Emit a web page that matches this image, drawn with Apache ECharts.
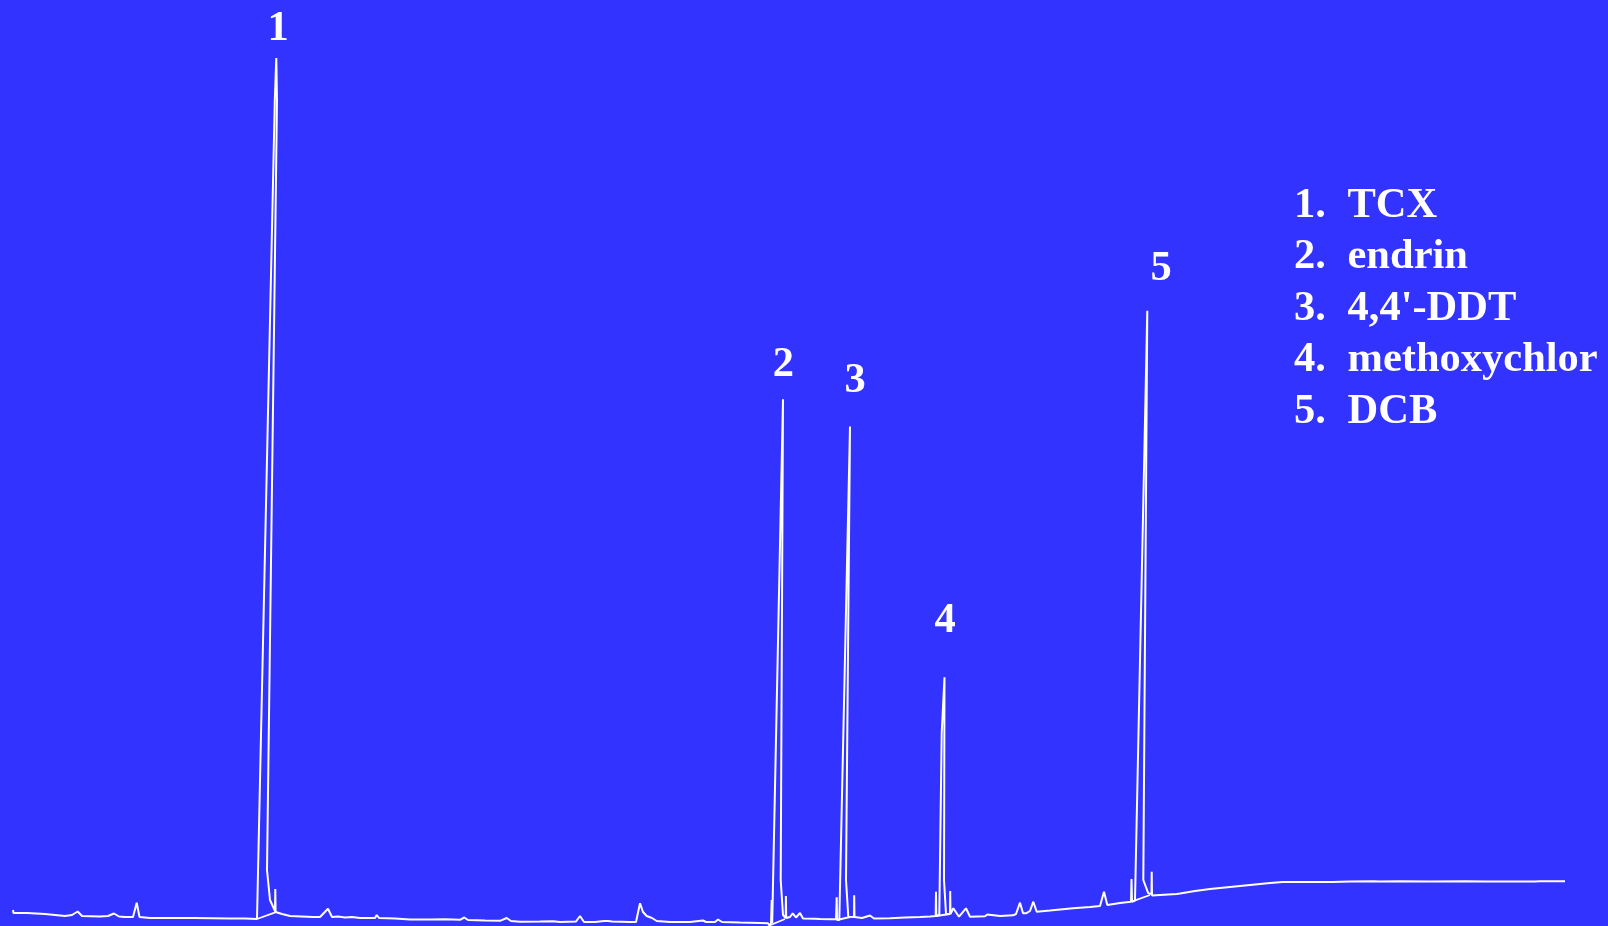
<!DOCTYPE html>
<html>
<head>
<meta charset="utf-8">
<script src="https://cdn.jsdelivr.net/npm/echarts@6/dist/echarts.min.js"></script>
<style>
html,body{margin:0;padding:0;background:#3333ff;}
#chart{width:1608px;height:926px;}
</style>
</head>
<body>
<div id="chart"></div>
<script>
// Retention position (arbitrary units) and detector signal (arbitrary units)
var traceTime = [13,13.5,27,45,65,72,77.7,82,100,108,114,119,125,133,136.7,139.5,150,190,192,194,230,245,257,
274.8,276.3,277.3,277,267,270,275,275.3,275.6,282,290,313,320,328,332,338,345,352,360,375,376.7,379,395,410,
411.7,416,430,445,460,464.3,468,485,500,506.7,511,520,540,553,560,576,580,584,595,604,608,612,630,636,640,643,646.7,652,656.7,670,690,703,706,715,718,722,740,760,768,769.3,771,771.7,772.2,773,
783,784.3,780.7,783,785.7,785.9,786.2,790,792.7,796,800,803,815,820,830,836,836.5,836.7,837,839.3,
850,851.2,846,848.3,854,854.2,854.5,862,870,874,890,905,920,930,935.7,936,936.3,939.3,
941.7,944.5,945.7,944,946,950,950.2,950.5,953.3,959,966,970,985,987.3,988,1000,1013,1016,1020,1023,1026,1030,1033.3,1036.7,1050,1073,1090,1100,1104,1107.3,1120,1131,1131.5,1132,1135,
1147.3,1148.5,1143.3,1148.3,1151.5,1151.7,1152,1160,1176.7,1180,1195,1210,1230,1250,1270,1282.7,1284,1290,1310,1333,1350,1373,1374,1380,1400,1430,1430.5,1431,1466,1485,1500,1535,1540,1565];
var traceSignal = [16,13,13,12,10,11,14.5,10,9.5,10,12.5,9.5,9,9,23.3,9,8,8,9.5,8,7.5,7.5,7,
826,868,868,826,56,26,15,37,14,12,10,9,9,17.3,9,9.5,8.5,9,8,8,11,8,7.5,6.5,
7.7,6.5,6.5,6.8,6.2,8.5,6,5.5,5.2,8,5,4.2,4.5,4.8,4,4.5,10,4,4,5,5,4.5,4,4,22.7,14,10,8,5,4,4,5.5,4,4,6.5,4,3.5,3,2.7,0.5,3,26,3,3,
526.7,526.7,46,11,8,30,8,9,12.7,8.5,13,7.5,7.3,7,6.7,6.7,6,28.7,6,6,
499.4,499.4,46,9.3,9,30.7,9,8,10.5,7.5,7.8,8.5,9,9.5,10,34.3,10,11,
192.7,248.7,248.7,46,12,12,35,12,17.7,9.3,17.7,9.3,9.7,11.5,9.7,10,10.7,12,23.3,12.7,12.7,15,24.3,14.3,15.5,17.7,19,20,34.3,21,23,24.3,47,24.3,25.5,
615.3,615.3,46,32.7,32,54.3,30.5,31,32,32.5,35,37,39,41,43,44,42.5,44,44,44,44.5,44.7,45.5,44.5,44.7,44.5,46.5,44.5,44.7,44.5,44.5,44.5,44.8,44.7];

// Integration baselines drawn under the main peaks (null separates segments)
var baseTime   = [257,275.3,null,769.3,785,null,837,850,null,936,950,null,1131.7,1150];
var baseSignal = [7,13.7,null,0.5,7,null,6,9,null,10,12,null,24.3,31];

// Peak numbers placed above each peak
var peakNames  = ['1','2','3','4','5'];
var peakLabelTime   = [278,783.3,855,945,1161];
var peakLabelSignal = [897,561,545,305,657];

// Legend
var legendNumbers = ['1.','2.','3.','4.','5.'];
var legendNames   = ['TCX','endrin',"4,4'-DDT",'methoxychlor','DCB'];

var chart = echarts.init(document.getElementById('chart'), null, {renderer:'canvas'});
var font = '"Liberation Serif", "Times New Roman", serif';

var traceData = traceTime.map(function(t,i){return [t, traceSignal[i]];});
var baseData = baseTime.map(function(t,i){return t===null ? [null,null] : [t, baseSignal[i]];});
var labelData = peakNames.map(function(n,i){return {name:n, value:[peakLabelTime[i], peakLabelSignal[i]]};});

var graphics = [];
legendNumbers.forEach(function(num,i){
  var y = 205.5 + i*51.4;
  graphics.push({type:'text', left:1294, top:y-21, style:{text:num, fill:'#fff', font:'bold 42.5px '+font}});
  graphics.push({type:'text', left:1347.5, top:y-21, style:{text:legendNames[i], fill:'#fff', font:'bold 42.5px '+font}});
});

chart.setOption({
  backgroundColor:'#3333ff',
  animation:false,
  grid:{left:0,right:0,top:0,bottom:0},
  xAxis:{type:'value',min:0,max:1608,show:false},
  yAxis:{type:'value',min:0,max:926,show:false},
  graphic:graphics,
  series:[
    {type:'line',data:traceData,symbol:'none',lineStyle:{color:'#ffffff',width:2},z:3},
    {type:'line',data:baseData,symbol:'none',connectNulls:false,lineStyle:{color:'#ffffff',width:1.8},z:3},
    {type:'scatter',data:labelData,symbolSize:1,itemStyle:{color:'rgba(0,0,0,0)',opacity:1},
     emphasis:{disabled:true},
     label:{show:true,position:'inside',formatter:function(p){return p.name;},color:'#ffffff',opacity:1,
            textBorderWidth:0,textBorderColor:'transparent',fontFamily:font,fontWeight:'bold',fontSize:42.5},z:4}
  ]
});
</script>
</body>
</html>
